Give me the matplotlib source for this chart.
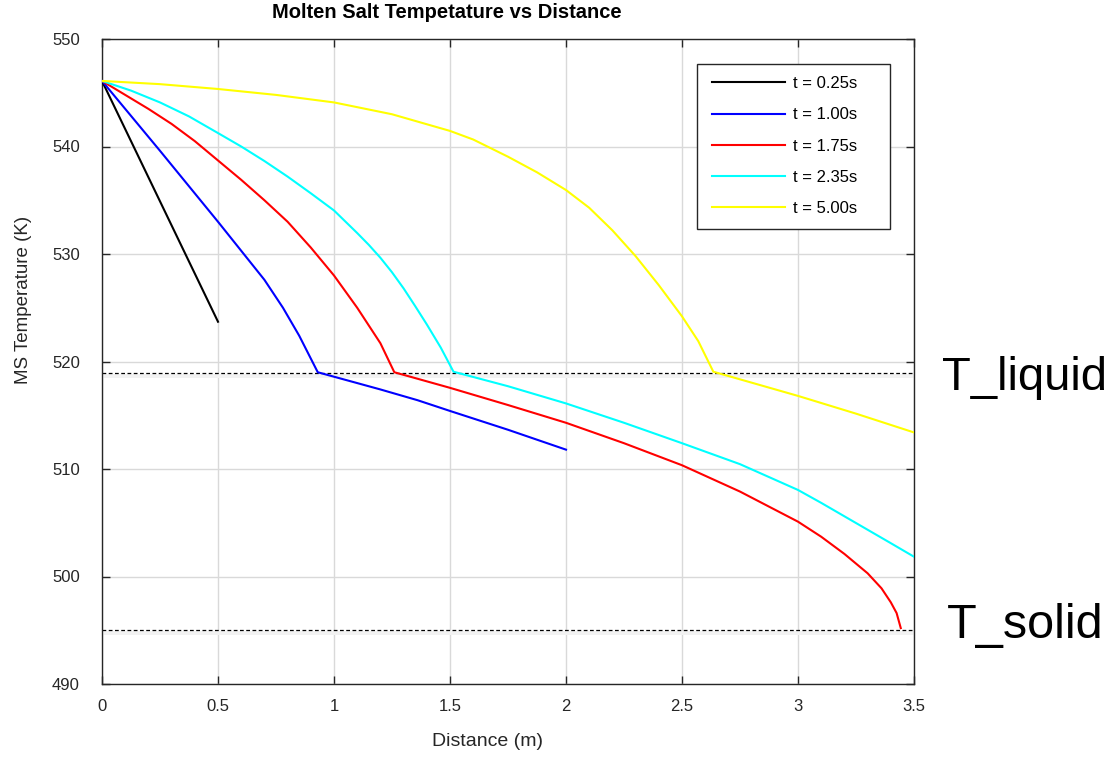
import matplotlib
matplotlib.use("Agg")
import matplotlib.pyplot as plt
from matplotlib.patches import Rectangle
import numpy as np

plt.rcParams['font.family'] = ['Liberation Sans', 'DejaVu Sans']

# ---- data ----
labels = ["t = 0.25s", "t = 1.00s", "t = 1.75s", "t = 2.35s", "t = 5.00s"]
colors = ["black", "blue", "red", "cyan", "yellow"]

x_025 = [0.0, 0.50]
T_025 = [546.1, 523.7]

x_100 = [0.0, 0.25, 0.50, 0.60, 0.70, 0.78, 0.85, 0.93, 1.20, 1.36, 1.50, 1.75, 2.00]
T_100 = [546.1, 539.6, 533.0, 530.3, 527.6, 525.0, 522.4, 519.0, 517.4, 516.4, 515.4, 513.65, 511.8]

x_175 = [0.0, 0.10, 0.20, 0.30, 0.40, 0.50, 0.60, 0.70, 0.80, 0.90, 1.00, 1.10, 1.20, 1.26,
         1.50, 1.75, 2.00, 2.25, 2.50, 2.75, 3.00, 3.10, 3.20, 3.30, 3.36, 3.40, 3.425, 3.443]
T_175 = [546.1, 544.8, 543.5, 542.1, 540.5, 538.7, 536.9, 535.0, 533.0, 530.6, 528.0, 525.0, 521.7, 519.0,
         517.55, 515.95, 514.3, 512.4, 510.35, 507.9, 505.1, 503.7, 502.1, 500.3, 498.9, 497.6, 496.6, 495.2]

x_235 = [0.0, 0.125, 0.25, 0.375, 0.50, 0.60, 0.70, 0.80, 0.90, 1.00, 1.10, 1.15, 1.20, 1.25, 1.30, 1.35, 1.40,
         1.46, 1.515, 1.75, 2.00, 2.25, 2.50, 2.75, 3.00, 3.10, 3.224, 3.30, 3.40, 3.50]
T_235 = [546.1, 545.2, 544.1, 542.8, 541.25, 540.0, 538.65, 537.2, 535.65, 534.05, 531.95, 530.85, 529.65, 528.3,
         526.8, 525.15, 523.45, 521.3, 519.05, 517.7, 516.1, 514.3, 512.4, 510.45, 508.05, 506.85, 505.3, 504.35,
         503.1, 501.84]

x_500 = [0.0, 0.25, 0.50, 0.75, 1.00, 1.25, 1.50, 1.60, 1.75, 1.875, 2.00, 2.10, 2.20, 2.30, 2.40, 2.50, 2.57, 2.635,
         3.00, 3.25, 3.50]
T_500 = [546.1, 545.8, 545.35, 544.8, 544.1, 543.0, 541.45, 540.65, 539.05, 537.6, 535.95, 534.3, 532.2, 529.8,
         527.1, 524.2, 521.9, 519.05, 516.8, 515.15, 513.4]

T_liquid = 518.9
T_solid = 495.0

xs = [x_025, x_100, x_175, x_235, x_500]
Ts = [T_025, T_100, T_175, T_235, T_500]

W, H = 1115, 757
fig = plt.figure(figsize=(W / 100, H / 100), dpi=100)
ax = fig.add_axes([102 / W, 1 - 684 / H, (914 - 102) / W, (684 - 39) / H])

for x, T, c, lab in zip(xs, Ts, colors, labels):
    ax.plot(x, T, color=c, lw=1.5, label=lab, zorder=3, solid_joinstyle='round')

# faint shading under dashed lines
for yv in (T_liquid, T_solid):
    ax.axhspan(yv - 0.45, yv - 0.05, color='#f2f2f2', lw=0, zorder=1)
    ax.plot([0, 3.5], [yv, yv], color='black', lw=0.9, ls=(0, (3, 2)), zorder=2)

ax.set_xlim(0, 3.5)
ax.set_ylim(490, 550)
ax.set_xticks(np.arange(0, 3.51, 0.5))
ax.set_xticklabels(["0", "0.5", "1", "1.5", "2", "2.5", "3", "3.5"])
ax.set_yticks(np.arange(490, 551, 10))
ax.grid(True, color='#d9d9d9', lw=1.0, zorder=0)
ax.set_axisbelow(True)
ax.tick_params(direction='in', top=True, right=True, length=6, width=1.0,
               labelsize=12, colors='#262626', labelcolor='#262626')
ax.tick_params(axis='x', pad=11)
ax.tick_params(axis='y', pad=16)
for s in ax.spines.values():
    s.set_color('#262626')
    s.set_linewidth(1.0)

# legend frame (MATLAB style, wider on the right)
frame = Rectangle((697 / W, 1 - 229 / H), (890 - 697) / W, (229 - 64) / H,
                  transform=fig.transFigure, facecolor='white', edgecolor='#262626',
                  lw=1.0, zorder=4)
ax.add_patch(frame)
frame.set_clip_on(False)

leg = ax.legend(loc='upper left', bbox_to_anchor=(712 / W, 1 - 76 / H),
                bbox_transform=fig.transFigure, frameon=False,
                fontsize=12, handlelength=4.4, labelspacing=0.98, borderpad=0.0,
                handletextpad=0.45, borderaxespad=0)
leg.set_zorder(5)

fig.text(447 / W, 1 - 13 / H, "Molten Salt Tempetature vs Distance", ha='center', va='center',
         fontsize=14.5, fontweight='bold')
fig.text(487 / W, 1 - 742 / H, "Distance (m)", ha='center', va='center', fontsize=14, color='#262626')
fig.text(24 / W, 1 - 300 / H, "MS Temperature (K)", ha='center', va='center', rotation=90,
         fontsize=13.5, color='#262626')

fig.text(942 / W, 1 - 378 / H, "T_liquid", ha='left', va='center', fontsize=34)
fig.text(947 / W, 1 - 626 / H, "T_solid", ha='left', va='center', fontsize=35)

fig.savefig("out.png", dpi=100)
